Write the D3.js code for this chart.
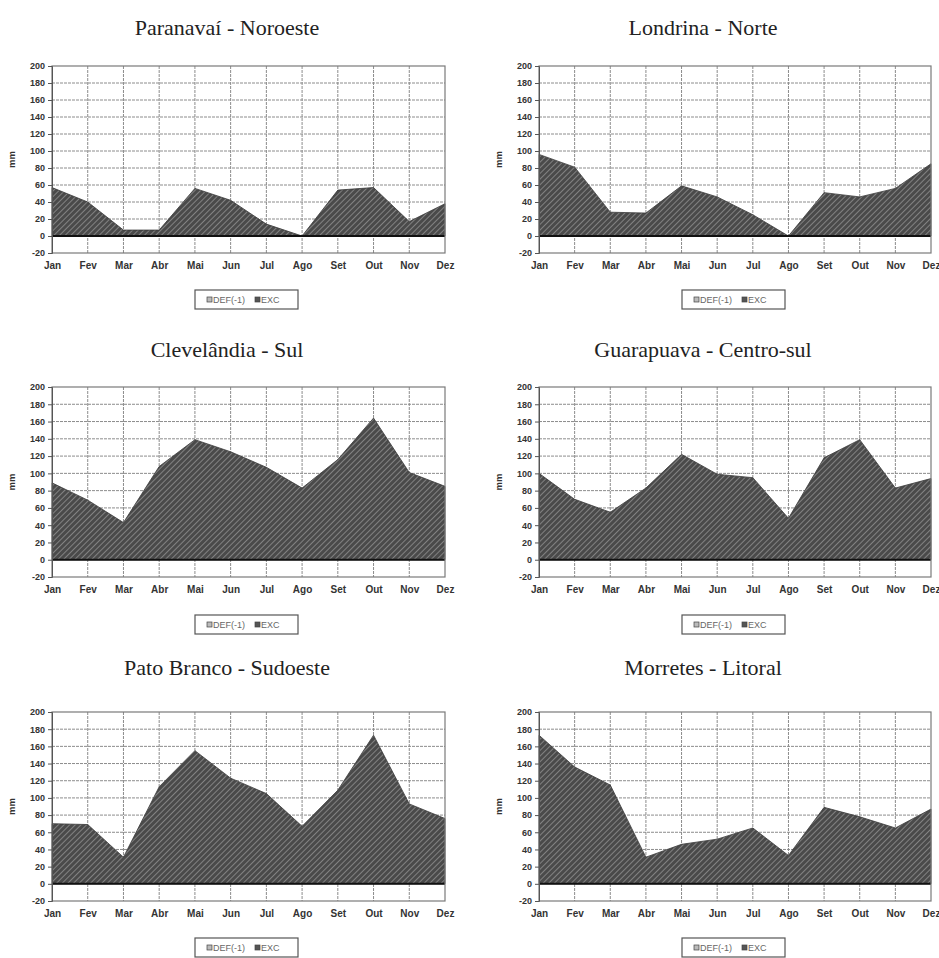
<!DOCTYPE html>
<html>
<head>
<meta charset="utf-8">
<script src="https://cdn.jsdelivr.net/npm/d3@7"></script>
<style>
body { margin: 0; background: #fff; }
svg { display: block; }
</style>
</head>
<body>
<script>
// data
var months = ["Jan", "Fev", "Mar", "Abr", "Mai", "Jun", "Jul", "Ago", "Set", "Out", "Nov", "Dez"];
var titles = ["Paranavaí - Noroeste", "Londrina - Norte", "Clevelândia - Sul",
    "Guarapuava - Centro-sul", "Pato Branco - Sudoeste", "Morretes - Litoral"];
var yTicks = [-20, 0, 20, 40, 60, 80, 100, 120, 140, 160, 180, 200];
var legendLabels = ["DEF(-1)", "EXC"];

var paranavai = [57, 40, 7, 7, 56, 42, 14, 0, 54, 57, 17, 38];
var londrina = [96, 81, 28, 27, 59, 46, 25, 0, 51, 46, 56, 85];
var clevelandia = [89, 69, 43, 108, 139, 125, 107, 83, 116, 164, 101, 85];
var guarapuava = [100, 70, 55, 83, 122, 99, 95, 48, 118, 139, 83, 94];
var patoBranco = [70, 69, 31, 113, 155, 123, 105, 67, 109, 173, 93, 76];
var morretes = [173, 136, 115, 31, 46, 52, 65, 33, 89, 78, 65, 87];

var series = [paranavai, londrina, clevelandia, guarapuava, patoBranco, morretes];

// layout of the 3x2 grid
var colX = [{left: 52, right: 445, title: 227}, {left: 539, right: 931, title: 703}];
var rowY = [{top: 66, bottom: 253, title: 30, legend: 290},
            {top: 387, bottom: 577, title: 352, legend: 615},
            {top: 712, bottom: 901, title: 670, legend: 938}];

var svg = d3.select("body").append("svg")
    .attr("width", 939)
    .attr("height", 958);

// hatch pattern
var defs = svg.append("defs");
var pat = defs.append("pattern")
    .attr("id", "hatch")
    .attr("patternUnits", "userSpaceOnUse")
    .attr("width", 4)
    .attr("height", 4)
    .attr("patternTransform", "rotate(45)");
pat.append("rect").attr("width", 4).attr("height", 4).attr("fill", "#4a4a4a");
pat.append("line").attr("x1", 0).attr("y1", 0).attr("x2", 0).attr("y2", 4)
    .attr("stroke", "#a0a0a0").attr("stroke-width", 1.3);

series.forEach(function (vals, i) {
    var c = colX[i % 2];
    var r = rowY[Math.floor(i / 2)];

    var x = d3.scalePoint().domain(months).range([c.left, c.right]).padding(0);
    var y = d3.scaleLinear().domain([-20, 200]).range([r.bottom, r.top]);

    var g = svg.append("g");

    // title
    g.append("text")
        .attr("x", c.title)
        .attr("y", r.title)
        .attr("text-anchor", "middle")
        .attr("dominant-baseline", "middle")
        .style("font-family", "'Liberation Serif', 'Times New Roman', serif")
        .style("font-size", "22px")
        .attr("fill", "#222")
        .text(titles[i]);

    // grid
    g.append("g").selectAll("line.h")
        .data(yTicks.filter(function (d) { return d !== 0 && d !== -20 && d !== 200; }))
        .join("line")
        .attr("x1", c.left).attr("x2", c.right)
        .attr("y1", function (d) { return y(d); })
        .attr("y2", function (d) { return y(d); })
        .attr("stroke", "#8c8c8c")
        .attr("stroke-width", 1)
        .attr("stroke-dasharray", "3,1");
    g.append("g").selectAll("line.v")
        .data(months.slice(1, 11))
        .join("line")
        .attr("x1", function (d) { return x(d); })
        .attr("x2", function (d) { return x(d); })
        .attr("y1", r.top).attr("y2", r.bottom)
        .attr("stroke", "#8c8c8c")
        .attr("stroke-width", 1)
        .attr("stroke-dasharray", "3,1");

    // area
    var area = d3.area()
        .x(function (d, j) { return x(months[j]); })
        .y0(y(0))
        .y1(function (d) { return y(d); });
    g.append("path")
        .datum(vals)
        .attr("d", area)
        .attr("fill", "url(#hatch)")
        .attr("stroke", "#3a3a3a")
        .attr("stroke-width", 0.8);

    // zero line
    g.append("line")
        .attr("x1", c.left).attr("x2", c.right)
        .attr("y1", y(0)).attr("y2", y(0))
        .attr("stroke", "#111")
        .attr("stroke-width", 2);

    // plot border
    g.append("rect")
        .attr("x", c.left).attr("y", r.top)
        .attr("width", c.right - c.left).attr("height", r.bottom - r.top)
        .attr("fill", "none")
        .attr("stroke", "#7a7a7a")
        .attr("stroke-width", 1.2);

    // y axis
    var ya = g.append("g")
        .attr("transform", "translate(" + c.left + ",0)")
        .call(d3.axisLeft(y).tickValues(yTicks).tickSize(4).tickPadding(3)
            .tickFormat(function (d) { return String(d); }));
    ya.select(".domain").attr("stroke", "#555");
    ya.selectAll(".tick line").attr("stroke", "#555");
    ya.selectAll("text")
        .style("font-family", "'Liberation Sans', Arial, sans-serif")
        .style("font-size", "9px")
        .style("font-weight", "bold")
        .attr("fill", "#333");

    // x axis labels
    var xa = g.append("g")
        .attr("transform", "translate(0," + r.bottom + ")")
        .call(d3.axisBottom(x).tickSize(0).tickPadding(9));
    xa.select(".domain").remove();
    xa.selectAll("text")
        .style("font-family", "'Liberation Sans', Arial, sans-serif")
        .style("font-size", "10px")
        .style("font-weight", "bold")
        .attr("fill", "#333");

    // y label
    g.append("text")
        .attr("transform", "translate(" + (c.left - 37) + "," + y(90) + ") rotate(-90)")
        .attr("text-anchor", "middle")
        .style("font-family", "'Liberation Sans', Arial, sans-serif")
        .style("font-size", "9.5px")
        .style("font-weight", "bold")
        .attr("fill", "#333")
        .text("mm");

    // legend
    var lx = c.left + 143;
    var lg = g.append("g").attr("transform", "translate(" + lx + "," + r.legend + ")");
    lg.append("rect")
        .attr("width", 103).attr("height", 19)
        .attr("fill", "#fff")
        .attr("stroke", "#555")
        .attr("stroke-width", 1.2);
    var items = lg.selectAll("g.item")
        .data(legendLabels)
        .join("g")
        .attr("transform", function (d, k) { return "translate(" + (k === 0 ? 12 : 60) + ",10)"; });
    items.append("rect")
        .attr("x", 0).attr("y", -3)
        .attr("width", 5).attr("height", 5)
        .attr("fill", function (d, k) { return k === 0 ? "#bbb" : "#555"; })
        .attr("stroke", "#444")
        .attr("stroke-width", 0.7);
    items.append("text")
        .attr("x", 6)
        .attr("dy", "0.35em")
        .style("font-family", "'Liberation Sans', Arial, sans-serif")
        .style("font-size", "9px")
        .attr("fill", "#666")
        .text(function (d) { return d; });
});
</script>
</body>
</html>
